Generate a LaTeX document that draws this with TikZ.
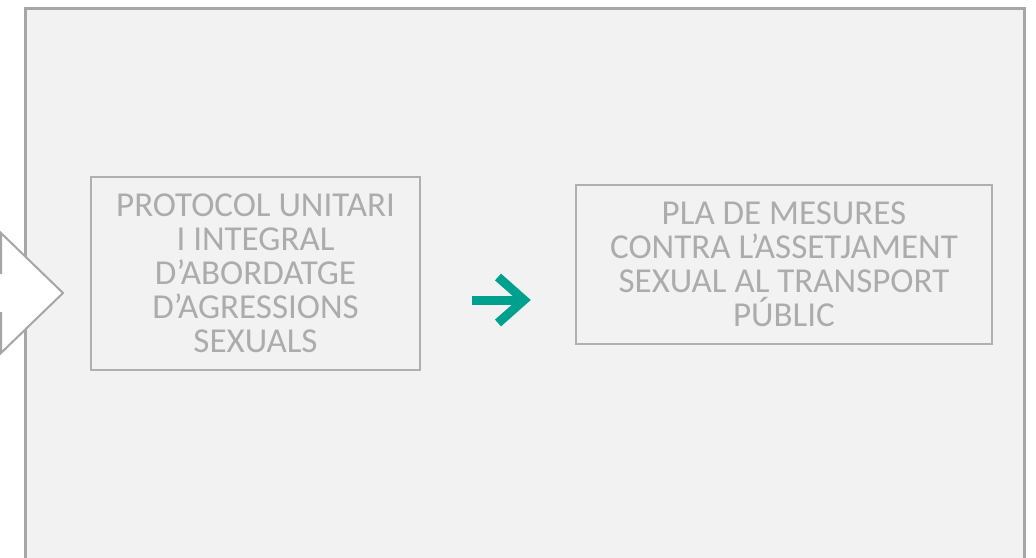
\documentclass[tikz,border=0pt]{standalone}
\usepackage{fontspec}
\setmainfont{Carlito}
\definecolor{bgfill}{HTML}{F2F2F2}
\definecolor{frame}{HTML}{A6A6A6}
\definecolor{boxline}{HTML}{B0B0B0}
\definecolor{txt}{HTML}{ACACAC}
\definecolor{teal}{HTML}{00A08F}
\tikzset{
  textbox/.style={draw=boxline, line width=1.6pt, align=center, text=txt,
    font=\fontsize{35}{34}\selectfont, inner sep=0pt},
}
\begin{document}
\begin{tikzpicture}[x=1pt,y=-1pt]
\useasboundingbox (0,0) rectangle (1036,557);
\clip (0,0) rectangle (1036,557);
\draw[frame, fill=bgfill, line width=3pt] (25.5,8) rectangle (1024.5,600);
\draw[frame, fill=white, line width=2pt, line join=miter]
  (-20,273) -- (1,273) -- (1,233) -- (63,293) -- (1,353) -- (1,313) -- (-20,313) -- cycle;
\node[textbox, minimum width=329pt, minimum height=193pt] (p1) at (255.5,273.5)
  {PROTOCOL UNITARI\\I INTEGRAL\\D’ABORDATGE\\D’AGRESSIONS\\SEXUALS};
\node[textbox, minimum width=416pt, minimum height=159pt] (p2) at (784,264.5)
  {PLA DE MESURES\\CONTRA L’ASSETJAMENT\\SEXUAL AL TRANSPORT\\PÚBLIC};
\coordinate (a0) at (472,300);
\coordinate (a1) at (524,300);
\draw[teal, line width=9pt] (a0) -- (a1);
\draw[teal, line width=9pt, line join=miter] (498,277) -- (a1) -- (498,323);
\end{tikzpicture}
\end{document}
